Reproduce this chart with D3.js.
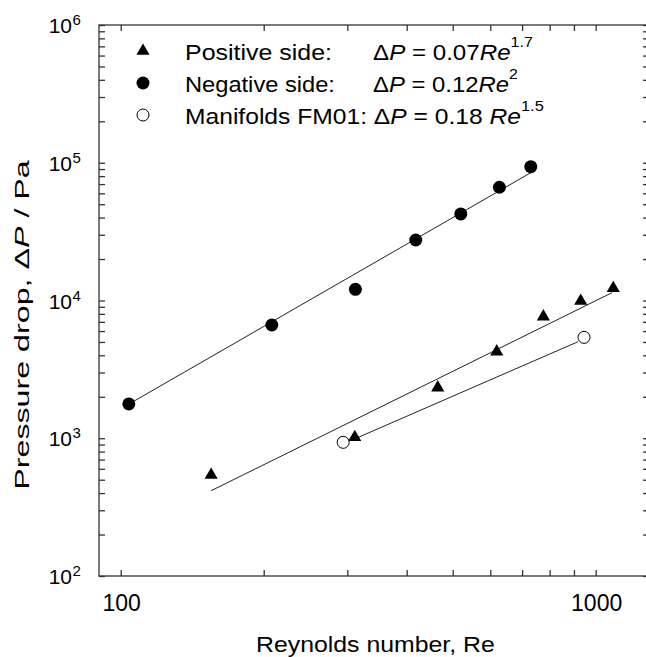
<!DOCTYPE html>
<html lang="en">
<head>
<meta charset="UTF-8">
<title>Pressure drop vs Reynolds number</title>
<style>
    html, body { margin: 0; padding: 0; background: #fff; overflow: hidden; }
    svg { display: block; font-family: "Liberation Sans", Arial, sans-serif; }
</style>
</head>
<body>
<svg id="chart" width="646" height="657" viewBox="0 0 646 657"></svg>
<script src="https://d3js.org/d3.v7.min.js"></script>
<script>
// data
const positiveRe = [155, 311, 465, 619, 776, 930, 1089];
const positiveDP = [541, 1016, 2330, 4250, 7630, 9920, 12260];
const negativeRe = [104, 208, 312, 418, 520, 627, 730];
const negativeDP = [1774, 6640, 12060, 27500, 42500, 66400, 93600];
const manifoldRe = [294, 945];
const manifoldDP = [934, 5400];

// fitted lines, start and end points
const positiveFit = [[155, 416], [1082, 11390]];
const negativeFit = [[105, 1803], [735, 85800]];
const manifoldFit = [[314, 1004], [918, 5023]];

const xTicks = [100, 200, 300, 400, 500, 600, 700, 800, 900, 1000];
const xLabels = [100, 1000];
const yDecades = [2, 3, 4, 5, 6];

const svg = d3.select("#chart");

const plotL = 99, plotR = 649, plotT = 25, plotB = 576;
const x = d3.scaleLog().domain([90, 1295]).range([plotL, plotR]);
const y = d3.scaleLog().domain([100, 1e6]).range([plotB, plotT]);

const axisColor = "#333";

// stretch a text horizontally to a wanted width (the original lettering is wider than Arial)
function fitText(t, ax, ay, width, rot) {
    t.attr("x", 0).attr("y", 0);
    const w = t.node().getBBox().width;
    const k = width / w;
    t.attr("transform", `translate(${ax},${ay})` + (rot ? ` rotate(${rot})` : "") + ` scale(${k},1)`);
}

function styleAxis(g) {
    g.select(".domain").remove();
    g.selectAll(".tick line").attr("stroke", axisColor).attr("stroke-width", 1.3);
}

// bottom axis
svg.append("g")
    .attr("transform", `translate(0,${plotB})`)
    .call(d3.axisBottom(x).tickValues(xTicks).tickSize(-6).tickFormat(""))
    .call(styleAxis);

// top axis
svg.append("g")
    .attr("transform", `translate(0,${plotT})`)
    .call(d3.axisTop(x).tickValues(xTicks).tickSize(-6).tickFormat(""))
    .call(styleAxis);

// left and right axes, every log tick
const yTicks = y.ticks();
svg.append("g")
    .attr("transform", `translate(${plotL},0)`)
    .call(d3.axisLeft(y).tickValues(yTicks).tickSize(-6).tickFormat(""))
    .call(styleAxis);

svg.append("g")
    .attr("transform", `translate(${plotR},0)`)
    .call(d3.axisRight(y).tickValues(yTicks).tickSize(-6).tickFormat(""))
    .call(styleAxis);

// x tick labels
svg.append("g").selectAll("text")
    .data(xLabels)
    .join("text")
    .attr("x", d => x(d) + 1)
    .attr("y", 611)
    .attr("text-anchor", "middle")
    .style("font-size", "23px")
    .text(d => d);

// y tick labels 10^n
const yLab = svg.append("g").attr("fill", "#000");
yDecades.forEach(n => {
    yLab.append("text")
        .attr("x", 72)
        .attr("y", y(Math.pow(10, n)) + 8)
        .attr("text-anchor", "end")
        .style("font-size", "21px")
        .text("10");
    yLab.append("text")
        .attr("x", 72.5)
        .attr("y", y(Math.pow(10, n)))
        .style("font-size", "15px")
        .text(n);
});

// frame
svg.append("rect")
    .attr("x", plotL).attr("y", plotT)
    .attr("width", plotR - plotL).attr("height", plotB - plotT)
    .attr("fill", "none")
    .attr("stroke", axisColor)
    .attr("stroke-width", 1.3);

// axis titles
const xTitle = svg.append("text")
    .style("font-size", "21.5px")
    .text("Reynolds number, Re");
fitText(xTitle, 256, 652, 239);

const yTitle = svg.append("text")
    .attr("text-anchor", "middle")
    .style("font-size", "21px");
yTitle.append("tspan").text("Pressure drop, \u0394");
yTitle.append("tspan").style("font-style", "italic").text("P");
yTitle.append("tspan").text(" / Pa");
fitText(yTitle, 29, 325, 330, -90);

// fit lines
const line = d3.line().x(d => x(d[0])).y(d => y(d[1]));
[positiveFit, negativeFit, manifoldFit].forEach(f => {
    svg.append("path")
        .attr("d", line(f))
        .attr("fill", "none")
        .attr("stroke", "#222")
        .attr("stroke-width", 1);
});

const tri = d3.symbol().type(d3.symbolTriangle).size(75);

// markers
svg.append("g").selectAll("path")
    .data(positiveRe.map((r, i) => [r, positiveDP[i]]))
    .join("path")
    .attr("d", tri)
    .attr("transform", d => `translate(${x(d[0])},${y(d[1])})`)
    .attr("fill", "#000");

svg.append("g").selectAll("circle")
    .data(negativeRe.map((r, i) => [r, negativeDP[i]]))
    .join("circle")
    .attr("cx", d => x(d[0]))
    .attr("cy", d => y(d[1]))
    .attr("r", 6.5)
    .attr("fill", "#000");

svg.append("g").selectAll("circle")
    .data(manifoldRe.map((r, i) => [r, manifoldDP[i]]))
    .join("circle")
    .attr("cx", d => x(d[0]))
    .attr("cy", d => y(d[1]))
    .attr("r", 6)
    .attr("fill", "#fff")
    .attr("stroke", "#000")
    .attr("stroke-width", 1);

// legend
const leg = svg.append("g").style("font-size", "22.5px").attr("fill", "#000");
leg.append("path").attr("d", tri).attr("transform", "translate(143,51)").attr("fill", "#000");
leg.append("circle").attr("cx", 143).attr("cy", 83).attr("r", 6.5).attr("fill", "#000");
leg.append("circle").attr("cx", 143).attr("cy", 115).attr("r", 6)
    .attr("fill", "#fff").attr("stroke", "#000");

fitText(leg.append("text").text("Positive side:"), 185, 60, 147);
fitText(leg.append("text").text("Negative side:"), 185, 92, 150);

function formula(lead, coef, exp) {
    const t = leg.append("text");
    t.append("tspan").text(lead + "\u0394");
    t.append("tspan").style("font-style", "italic").text("P");
    t.append("tspan").text(" = " + coef);
    t.append("tspan").style("font-style", "italic").text("Re");
    t.append("tspan").attr("dy", -13).style("font-size", "15px").text(exp);
    return t;
}
fitText(formula("", "0.07", "1.7"), 373, 60, 160);
fitText(formula("", "0.12", "2"), 373, 92, 145);
fitText(formula("Manifolds FM01: ", "0.18 ", "1.5"), 185, 124, 359);
</script>
</body>
</html>
